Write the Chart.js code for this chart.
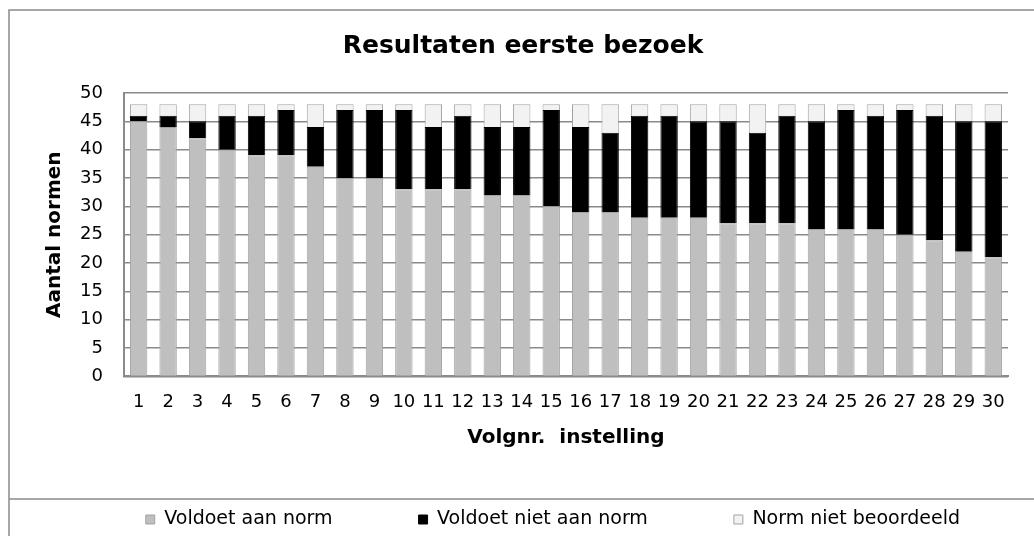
<!DOCTYPE html>
<html>
<head>
<meta charset="utf-8">
<script src="https://cdn.jsdelivr.net/npm/chart.js@4/dist/chart.umd.min.js"></script>
<style>
  html, body { margin: 0; padding: 0; background: #fff; }
  #wrap { width: 1034px; height: 536px; position: relative; }
</style>
</head>
<body>
<div id="wrap"><canvas id="chart"></canvas></div>
<script>
// data
const instellingen = Array.from({ length: 30 }, (_, i) => String(i + 1));
const voldoet = [45, 44, 42, 40, 39, 39, 37, 35, 35, 33, 33, 33, 32, 32, 30, 29, 29, 28, 28, 28, 27, 27, 27, 26, 26, 26, 25, 24, 22, 21];
const voldoetNiet = [1, 2, 3, 6, 7, 8, 7, 12, 12, 14, 11, 13, 12, 12, 17, 15, 14, 18, 18, 17, 18, 16, 19, 19, 21, 20, 22, 22, 23, 24];
const nietBeoordeeld = [2, 2, 3, 2, 2, 1, 4, 1, 1, 1, 4, 2, 4, 4, 1, 4, 5, 2, 2, 3, 3, 5, 2, 3, 1, 2, 1, 2, 3, 3];

const FONT = "'DejaVu Sans', Verdana, sans-serif";

// outer frame lines like the original sheet
const framePlugin = {
  id: "frame",
  afterLayout(chart) {
    // the original title and legend sit a bit right of centre
    chart.titleBlock.left += 38;
    chart.legend.right += 38;
  },
  beforeDraw(chart) {
    const c = chart.ctx;
    c.save();
    c.fillStyle = "#fff";
    c.fillRect(0, 0, chart.width, chart.height);
    c.strokeStyle = "#8a8a8a";
    c.lineWidth = 1.5;
    c.beginPath();
    c.moveTo(chart.width, 10);
    c.lineTo(9, 10);
    c.lineTo(9, chart.height);
    c.moveTo(9, 499);
    c.lineTo(chart.width, 499);
    c.stroke();
    c.restore();
  },
};

const barStyle = { barPercentage: 0.59, categoryPercentage: 1, borderWidth: 1 };

new Chart(document.getElementById("chart"), {
  type: "bar",
  data: {
    labels: instellingen,
    datasets: [
      { label: "Voldoet aan norm", data: voldoet, backgroundColor: "#bfbfbf", borderColor: "#a3a3a3", ...barStyle },
      { label: "Voldoet niet aan norm", data: voldoetNiet, backgroundColor: "#000000", borderColor: "#000000", ...barStyle },
      { label: "Norm niet beoordeeld", data: nietBeoordeeld, backgroundColor: "#f2f2f2", borderColor: "#a3a3a3", ...barStyle },
    ],
  },
  options: {
    responsive: true,
    maintainAspectRatio: false,
    animation: false,
    layout: { padding: { top: 12, left: 0, right: 26, bottom: -3 } },
    plugins: {
      title: {
        display: true,
        text: "Resultaten eerste bezoek",
        color: "#000",
        font: { family: FONT, size: 25, weight: "bold" },
        padding: { top: 19, bottom: 32 },
      },
      legend: {
        position: "bottom",
        align: "end",
        labels: {
          color: "#000",
          font: { family: FONT, size: 19 },
          boxWidth: 9,
          boxHeight: 9,
          padding: 86,
        },
      },
      tooltip: { enabled: false },
    },
    scales: {
      x: {
        stacked: true,
        grid: { display: false, drawTicks: false },
        border: { color: "#8a8a8a", width: 2 },
        ticks: {
          color: "#000",
          font: { family: FONT, size: 18 },
          autoSkip: false,
          maxRotation: 0,
          padding: 15,
        },
        title: {
          display: true,
          text: "Volgnr.  instelling",
          color: "#000",
          font: { family: FONT, size: 20, weight: "bold" },
          padding: { top: -2, bottom: -26 },
        },
      },
      y: {
        stacked: true,
        min: 0,
        max: 50,
        grid: { color: "#8a8a8a", lineWidth: 1.5, drawTicks: false },
        border: { color: "#8a8a8a", width: 2 },
        ticks: {
          stepSize: 5,
          autoSkip: false,
          color: "#000",
          font: { family: FONT, size: 18 },
          padding: 21,
        },
        title: {
          display: true,
          text: "Aantal normen",
          color: "#000",
          font: { family: FONT, size: 20, weight: "bold" },
          padding: { top: 43, bottom: -8 },
        },
      },
    },
  },
  plugins: [framePlugin],
});
</script>
</body>
</html>
